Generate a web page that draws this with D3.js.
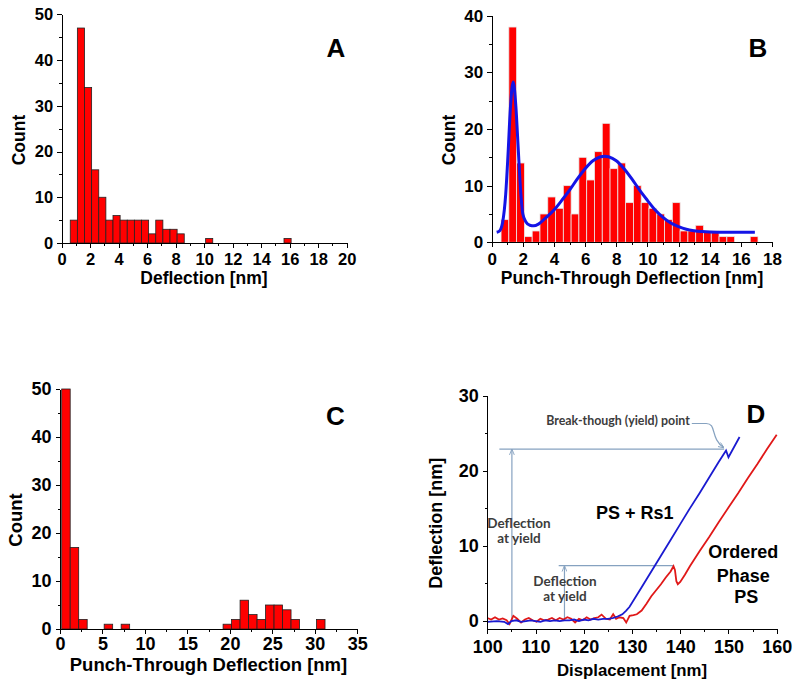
<!DOCTYPE html>
<html>
<head>
<meta charset="utf-8">
<title>Deflection histograms and force curves</title>
<style>
  body { margin: 0; background: #fff; }
  svg { display: block; font-family: "Liberation Sans", Arial, sans-serif; }
  .axis path, .axis line { stroke: #000; stroke-width: 1; shape-rendering: crispEdges; }
  .axis text { font-weight: bold; fill: #000; }
  .title { font-weight: bold; fill: #000; }
  .note { font-family: Lato, sans-serif; font-weight: bold; fill: #3c3c3c; }
  .guide { stroke: #86a2c0; stroke-width: 1.2; fill: none; }
</style>
</head>
<body>
<svg width="800" height="688"></svg>
<script src="https://cdn.jsdelivr.net/npm/d3@7"></script>
<script>
// ---- data ----
// A: deflection histogram (bins of 0.5 nm starting at 0.6 nm)
var aStart = 0.6, aWidth = 0.5;
var aCounts = [5, 47, 34, 16, 10, 5, 6, 5, 5, 5, 5, 2, 5, 3, 3, 2, 0, 0, 0, 1,
               0, 0, 0, 0, 0, 0, 0, 0, 0, 0, 1];

// B: punch-through deflection histogram (bins of 0.5 nm from 0.6 nm) + fit curve
var bStart = 0.6, bWidth = 0.5;
var bCounts = [4, 38, 14, 1, 2, 5, 8, 6, 10, 5, 15, 11, 16, 21, 13, 14, 7, 10, 7, 6,
               5, 4, 7, 2, 2, 3, 2, 2, 1, 1, 0, 0, 1];
var bFitX = [0.32, 0.5, 0.7, 0.9, 1.05, 1.2, 1.38, 1.55, 1.7, 1.85, 2.0, 2.2, 2.45, 2.7, 3.0,
             3.5, 4.0, 4.5, 5.0, 5.5, 6.0, 6.5, 7.0, 7.25, 7.5, 8.0, 8.5, 9.0, 9.5, 10.0,
             10.5, 11.0, 11.5, 12.0, 12.5, 13.0, 13.5, 14.0, 15.0, 16.9];
var bFitY = [1.76, 2.0, 3.5, 8.5, 15.6, 23.7, 28.3, 24.1, 16.7, 9.4, 5.0, 3.6, 3.0, 2.9, 3.2,
             4.4, 5.7, 7.4, 9.2, 11.2, 13.0, 14.4, 15.1, 15.2, 15.1, 14.4, 13.0, 11.2, 9.2, 7.4,
             5.7, 4.4, 3.4, 2.76, 2.3, 2.05, 1.9, 1.82, 1.77, 1.76];

// C: punch-through deflection histogram (bins of 1 nm from 0.2 nm)
var cStart = 0.2, cWidth = 1;
var cCounts = [50, 17, 2, 0, 0, 1, 0, 1, 0, 0, 0, 0, 0, 0, 0, 0, 0, 0, 0, 1,
               2, 6, 3, 2, 5, 5, 4, 2, 0, 0, 2];

// D: deflection vs displacement curves
var dRedX = [100, 100.8, 101.6, 102.4, 103.2, 104, 104.6, 105.4, 106.2, 107, 107.8, 108.6,
             109.4, 110.2, 111, 111.8, 112.6, 113.4, 114.2, 115, 115.8, 116.6, 117.4, 118.2,
             119, 119.8, 120.6, 121.4, 122.2, 123, 123.7, 124.6, 125.4, 126.1, 126.7, 127.4,
             128.2, 128.8, 129.5, 130.3, 131, 132, 133, 134, 135, 136, 137, 138, 138.6, 138.9,
             139.2, 139.5, 140, 141, 142, 144, 146, 148, 150, 152, 154, 156, 158, 160];
var dRedY = [0.4, 0.2, 0.5, 0.2, 0.35, 0.1, -0.4, 0.7, 0.3, -0.2, 0.2, 0.4,
             0.1, -0.1, 0.3, 0.1, 0.2, 0.4, 0.1, 0.4, 0.2, 0.5, 0.3, -0.2,
             0.3, 0.1, 0.5, 0.2, 0.4, 0.5, 0.85, 0.3, 0.2, 0.9, 0.3, 0.5,
             0.4, -0.2, 0.7, 0.8, 0.9, 1.4, 2.3, 3.3, 4.1, 4.9, 5.8, 6.6, 7.3, 6.8,
             5.3, 4.9, 5.2, 6.2, 7.3, 9.3, 11.2, 13.2, 15.1, 17.0, 19.0, 20.9, 22.9, 24.8];
var dBlueX = [100, 102, 103.5, 104.3, 105, 106, 107, 108, 109, 110, 111, 112, 113, 114, 115,
              116, 117, 118, 119, 120, 121, 122, 123, 124, 125, 126, 127, 128, 128.8, 129.5,
              132, 134, 136, 138, 140, 142, 144, 146, 148, 149.5, 150, 152.3];
var dBlueY = [-0.1, 0, -0.1, -0.4, 0, 0.1, -0.1, 0, 0.1, 0, -0.1, 0.1, 0, 0.1, 0,
              0.1, 0.1, 0.2, 0, 0.2, 0.1, 0.3, 0.2, 0.3, 0.3, 0.4, 0.6, 0.9, 1.4, 1.9,
              4.5, 6.6, 8.7, 10.8, 12.9, 15.0, 17.0, 19.1, 21.2, 22.7, 21.8, 24.5];
// yield markers: [x of arrow, x start of level line, x end of level line, deflection]
var yieldHigh = [105.1, 102.5, 149.1, 22.9];
var yieldLow = [116.0, 114.8, 138.6, 7.37];

// ---- drawing ----
var svg = d3.select("svg");
svg.append("rect").attr("width", 800).attr("height", 688).attr("fill", "#fff");

var defs = svg.append("defs");
defs.append("marker")
    .attr("id", "arr")
    .attr("viewBox", "0 0 10 10")
    .attr("refX", 9).attr("refY", 5)
    .attr("markerWidth", 6).attr("markerHeight", 6)
    .attr("markerUnits", "userSpaceOnUse")
    .attr("orient", "auto")
  .append("path")
    .attr("d", "M0,1 L10,5 L0,9")
    .attr("fill", "none")
    .attr("stroke", "#86a2c0")
    .attr("stroke-width", 1.5);

function range(a, b, s) { return d3.range(a, b + s / 2, s); }

function axes(x, y, xMajor, xMinor, yMajor, yMinor, fs, xPad) {
  var y0 = y.range()[0], x0 = x.range()[0];
  svg.append("g").attr("class", "axis").attr("transform", "translate(0," + y0 + ")")
      .call(d3.axisBottom(x).tickValues(xMinor).tickSize(2.5).tickSizeOuter(0).tickFormat(""));
  svg.append("g").attr("class", "axis").attr("transform", "translate(" + x0 + ",0)")
      .call(d3.axisLeft(y).tickValues(yMinor).tickSize(2.5).tickSizeOuter(0).tickFormat(""));
  svg.append("g").attr("class", "axis").attr("transform", "translate(0," + y0 + ")")
      .call(d3.axisBottom(x).tickValues(xMajor).tickSize(4.5).tickSizeOuter(0).tickPadding(xPad || 6))
      .attr("font-size", fs).attr("font-family", null);
  svg.append("g").attr("class", "axis").attr("transform", "translate(" + x0 + ",0)")
      .call(d3.axisLeft(y).tickValues(yMajor).tickSize(4.5).tickSizeOuter(0).tickPadding(4))
      .attr("font-size", fs).attr("font-family", null);
}

function label(x, y, str, size, rot, cls) {
  var t = svg.append("text")
      .attr("class", cls || "title")
      .attr("text-anchor", "middle")
      .attr("font-size", size)
      .text(str);
  if (rot) t.attr("transform", "translate(" + x + "," + y + ") rotate(-90)");
  else t.attr("x", x).attr("y", y);
  return t;
}

function bars(x, y, start, w, counts, stroke) {
  var data = counts.map(function(c, i) { return {lo: start + i * w, hi: start + (i + 1) * w, c: c}; })
                   .filter(function(d) { return d.c > 0; });
  svg.append("g").selectAll("rect")
      .data(data)
      .enter().append("rect")
        .attr("x", function(d) { return x(d.lo); })
        .attr("width", function(d) { return x(d.hi) - x(d.lo); })
        .attr("y", function(d) { return y(d.c); })
        .attr("height", function(d) { return y(0) - y(d.c); })
        .attr("fill", "#ff0000")
        .attr("stroke", stroke)
        .attr("stroke-width", 0.8);
}

// Panel A
var xA = d3.scaleLinear().domain([0, 20]).range([61.7, 346.7]),
    yA = d3.scaleLinear().domain([0, 50]).range([243, 14.3]);
bars(xA, yA, aStart, aWidth, aCounts, "#222");
axes(xA, yA, range(0, 20, 2), range(1, 19, 2), range(0, 50, 10), range(5, 45, 10), 16.5);
label(25, 140, "Count", 17.5, true);
label(204, 284, "Deflection [nm]", 17.5);
label(336, 56.7, "A", 26);

// Panel B
var xB = d3.scaleLinear().domain([0, 18]).range([491.7, 772]),
    yB = d3.scaleLinear().domain([0, 40]).range([242.3, 15.7]);
bars(xB, yB, bStart, bWidth, bCounts, "#e8e8e8");
var fit = d3.line()
    .curve(d3.curveMonotoneX)
    .x(function(d) { return xB(d[0]); })
    .y(function(d) { return yB(d[1]); });
svg.append("path")
    .datum(bFitX.map(function(v, i) { return [v, bFitY[i]]; }))
    .attr("d", fit)
    .attr("fill", "none")
    .attr("stroke", "#1414e6")
    .attr("stroke-width", 3);
axes(xB, yB, range(0, 18, 2), range(1, 17, 2), range(0, 40, 10), range(5, 35, 10), 17);
label(455, 140, "Count", 17.5, true);
label(632, 284, "Punch-Through Deflection [nm]", 17.5);
label(758, 56.7, "B", 26);

// Panel C
var xC = d3.scaleLinear().domain([0, 35]).range([60, 357.3]),
    yC = d3.scaleLinear().domain([0, 50]).range([629, 389]);
bars(xC, yC, cStart, cWidth, cCounts, "#222");
axes(xC, yC, range(0, 35, 5), range(2.5, 32.5, 5), range(0, 50, 10), range(5, 45, 10), 18, 4);
label(21.7, 520, "Count", 18.5, true);
label(208.5, 671, "Punch-Through Deflection [nm]", 18.5);
label(335.5, 424.5, "C", 26);

// Panel D
var xD = d3.scaleLinear().domain([100, 160]).range([487.3, 776.7]),
    yD = d3.scaleLinear().domain([-1.1, 30]).range([629.3, 395.7]);

[yieldHigh, yieldLow].forEach(function(m) {
  svg.append("line").attr("class", "guide")
      .attr("x1", xD(m[1])).attr("x2", xD(m[2]))
      .attr("y1", yD(m[3])).attr("y2", yD(m[3]));
  svg.append("line").attr("class", "guide")
      .attr("x1", xD(m[0])).attr("x2", xD(m[0]))
      .attr("y1", yD(0)).attr("y2", yD(m[3]) + 0.5)
      .attr("marker-end", "url(#arr)");
});
// curved pointer to the break-through point
svg.append("path").attr("class", "guide")
    .attr("d", "M" + xD(142.4) + "," + yD(26.3) +
               " L" + xD(145.4) + "," + yD(26.3) +
               " C" + xD(147.6) + "," + yD(26.3) + " " + xD(146.2) + "," + yD(24.3) + " " +
               xD(149.0) + "," + yD(23.1))
    .attr("marker-end", "url(#arr)");

var curve = d3.line()
    .x(function(d) { return xD(d[0]); })
    .y(function(d) { return yD(d[1]); });
svg.append("path")
    .datum(dRedX.map(function(v, i) { return [v, dRedY[i]]; }))
    .attr("d", curve).attr("fill", "none")
    .attr("stroke", "#e01818").attr("stroke-width", 1.8);
svg.append("path")
    .datum(dBlueX.map(function(v, i) { return [v, dBlueY[i]]; }))
    .attr("d", curve).attr("fill", "none")
    .attr("stroke", "#1a1ad0").attr("stroke-width", 1.8);

axes(xD, yD, range(100, 160, 10), range(105, 155, 10), range(0, 30, 10), range(5, 25, 10), 18);
label(441.7, 523.3, "Deflection [nm]", 18, true);
label(632, 676, "Displacement [nm]", 16.8);
label(756, 423.3, "D", 26);

label(618, 424.5, "Break-though (yield) point", 12.4, false, "note");
label(519, 528.3, "Deflection", 13.5, false, "note");
label(519, 543, "at yield", 13.5, false, "note");
label(565, 586, "Deflection", 13.5, false, "note");
label(565, 601, "at yield", 13.5, false, "note");

label(634.7, 519, "PS + Rs1", 18);
label(743.3, 558.3, "Ordered", 18);
label(743.3, 581.7, "Phase", 18);
label(746.3, 603.3, "PS", 18);
</script>
</body>
</html>
